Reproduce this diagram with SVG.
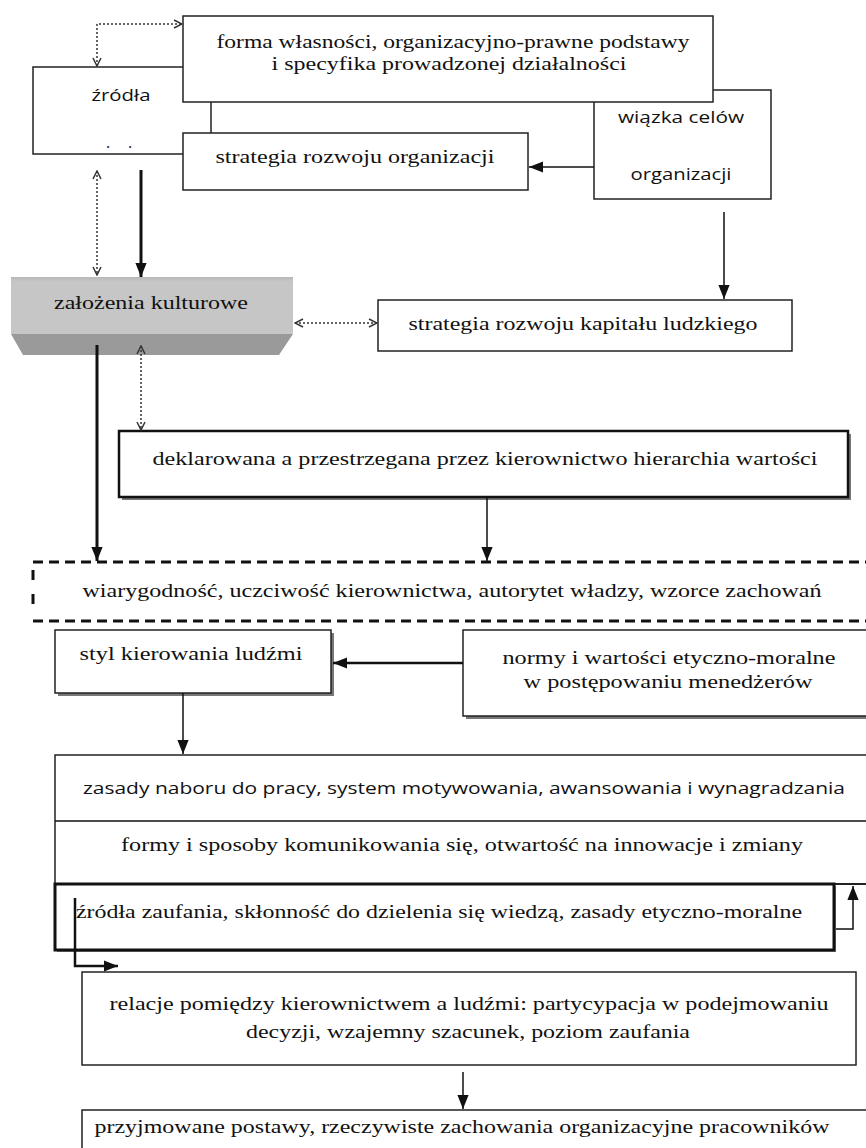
<svg xmlns="http://www.w3.org/2000/svg" width="866" height="1148" viewBox="0 0 866 1148">
<style>
.bx{fill:#fff;stroke:#222;stroke-width:1.5}
.bx2{fill:#fff;stroke:#111;stroke-width:2.5}
.sh{fill:#777}
.serif{font-family:'Liberation Serif','Tinos','DejaVu Serif',serif;font-size:19px;fill:#111}
.sans{font-family:'Open Sans','Liberation Sans',sans-serif;font-size:16px;fill:#111}
.ln{stroke:#111;stroke-width:1.5;fill:none}
.thick{stroke:#111;stroke-width:3;fill:none}
.dot{stroke:#333;stroke-width:1.5;stroke-dasharray:2 2;fill:none}
</style>
<defs>
<marker id="fa2" viewBox="0 0 10 10" refX="10" refY="5" markerWidth="14" markerHeight="14" markerUnits="userSpaceOnUse" orient="auto"><path d="M0,1 L10,5 L0,9 z" fill="#111"/></marker>
<marker id="oa" viewBox="0 0 10 10" refX="9" refY="5" markerWidth="10" markerHeight="10" markerUnits="userSpaceOnUse" orient="auto"><path d="M1,1 L9,5 L1,9" fill="none" stroke="#333" stroke-width="1.5"/></marker>
<marker id="oas" viewBox="0 0 10 10" refX="9" refY="5" markerWidth="10" markerHeight="10" markerUnits="userSpaceOnUse" orient="auto-start-reverse"><path d="M1,1 L9,5 L1,9" fill="none" stroke="#333" stroke-width="1.5"/></marker>
<linearGradient id="gt" x1="0" y1="0" x2="0" y2="1"><stop offset="0" stop-color="#b8b8b8"/><stop offset="0.08" stop-color="#c6c6c6"/><stop offset="1" stop-color="#c6c6c6"/></linearGradient>
</defs>

<g id="n-zrodla">
<rect class="bx" x="33" y="67" width="178" height="87"/>
<text class="sans" x="121" y="101" text-anchor="middle" textLength="59" lengthAdjust="spacingAndGlyphs">źródła</text>
<text class="sans" x="108" y="148" text-anchor="middle">.</text>
<text class="sans" x="130" y="148" text-anchor="middle">.</text>
</g>

<g id="n-wiazka">
<rect class="bx" x="594" y="90" width="177" height="109"/>
<text class="sans" x="681" y="123" text-anchor="middle" textLength="126" lengthAdjust="spacingAndGlyphs">wiązka celów</text>
<text class="sans" x="681" y="180" text-anchor="middle" textLength="101" lengthAdjust="spacingAndGlyphs">organizacji</text>
</g>

<g id="n-forma">
<rect class="bx" x="183" y="16" width="530" height="86"/>
<text class="serif" x="453" y="48" text-anchor="middle" textLength="473" lengthAdjust="spacingAndGlyphs">forma własności, organizacyjno-prawne podstawy</text>
<text class="serif" x="449" y="70" text-anchor="middle" textLength="355" lengthAdjust="spacingAndGlyphs">i specyfika prowadzonej działalności</text>
</g>

<g id="n-strategia-org">
<rect class="bx" x="183" y="133" width="345" height="57"/>
<text class="serif" x="355" y="163" text-anchor="middle" textLength="279" lengthAdjust="spacingAndGlyphs">strategia rozwoju organizacji</text>
</g>

<g id="n-zalozenia">
<rect x="11" y="277" width="282" height="57" fill="url(#gt)"/>
<polygon points="11,334 293,334 279,355 23,355" fill="#9a9a9a"/>
<text class="serif" x="151" y="309" text-anchor="middle" textLength="194" lengthAdjust="spacingAndGlyphs">założenia kulturowe</text>
</g>

<g id="n-kapital">
<rect class="bx" x="378" y="300" width="414" height="51"/>
<text class="serif" x="583" y="330" text-anchor="middle" textLength="349" lengthAdjust="spacingAndGlyphs">strategia rozwoju kapitału ludzkiego</text>
</g>

<g id="n-deklarowana">
<rect class="sh" x="122" y="434" width="729" height="66"/>
<rect class="bx2" x="119" y="431" width="729" height="66"/>
<text class="serif" x="485" y="465" text-anchor="middle" textLength="665" lengthAdjust="spacingAndGlyphs">deklarowana a przestrzegana przez kierownictwo hierarchia wartości</text>
</g>

<g id="n-wiarygodnosc">
<path d="M33,562 H866 M33,621 H866" stroke="#111" stroke-width="3" stroke-dasharray="10 6" fill="none"/>
<path d="M33,570 V614" stroke="#111" stroke-width="3" stroke-dasharray="10 14" fill="none"/>
<text class="serif" x="452" y="597" text-anchor="middle" textLength="739" lengthAdjust="spacingAndGlyphs">wiarygodność, uczciwość kierownictwa, autorytet władzy, wzorce zachowań</text>
</g>

<g id="n-styl">
<rect class="sh" x="58" y="633" width="276" height="63"/>
<rect class="bx" x="55" y="630" width="276" height="63"/>
<text class="serif" x="191" y="660" text-anchor="middle" textLength="223" lengthAdjust="spacingAndGlyphs">styl kierowania ludźmi</text>
</g>

<g id="n-normy">
<rect class="sh" x="466" y="633" width="410" height="86"/>
<rect class="bx" x="463" y="630" width="410" height="86"/>
<text class="serif" x="669" y="664" text-anchor="middle" textLength="333" lengthAdjust="spacingAndGlyphs">normy i wartości etyczno-moralne</text>
<text class="serif" x="668" y="688" text-anchor="middle" textLength="289" lengthAdjust="spacingAndGlyphs">w postępowaniu menedżerów</text>
</g>

<g id="n-zasady">
<rect class="bx" x="55" y="755" width="830" height="129"/>
<line class="ln" x1="55" y1="821" x2="866" y2="821"/>
<text class="sans" x="464" y="794" text-anchor="middle" textLength="762" lengthAdjust="spacingAndGlyphs">zasady naboru do pracy, system motywowania, awansowania i wynagradzania</text>
<text class="serif" x="462" y="851" text-anchor="middle" textLength="682" lengthAdjust="spacingAndGlyphs">formy i sposoby komunikowania się, otwartość na innowacje i zmiany</text>
</g>

<g id="n-zaufanie">
<rect x="57" y="886" width="779" height="66" fill="#888"/>
<rect x="55" y="884" width="779" height="66" fill="#fff" stroke="#111" stroke-width="3"/>
<text class="serif" x="439" y="918" text-anchor="middle" textLength="726" lengthAdjust="spacingAndGlyphs">źródła zaufania, skłonność do dzielenia się wiedzą, zasady etyczno-moralne</text>
</g>

<g id="n-relacje">
<rect class="bx" x="82" y="972" width="774" height="93"/>
<text class="serif" x="469" y="1010" text-anchor="middle" textLength="719" lengthAdjust="spacingAndGlyphs">relacje pomiędzy kierownictwem a ludźmi: partycypacja w podejmowaniu</text>
<text class="serif" x="468" y="1038" text-anchor="middle" textLength="444" lengthAdjust="spacingAndGlyphs">decyzji, wzajemny szacunek, poziom zaufania</text>
</g>

<g id="n-postawy">
<rect class="bx" x="82" y="1110" width="800" height="60"/>
<text class="serif" x="462" y="1133" text-anchor="middle" textLength="735" lengthAdjust="spacingAndGlyphs">przyjmowane postawy, rzeczywiste zachowania organizacyjne pracowników</text>
</g>

<g id="connectors">
<path class="dot" d="M97,66 V24 H182" marker-start="url(#oas)" marker-end="url(#oa)"/>
<line class="ln" x1="594" y1="167" x2="529" y2="167" marker-end="url(#fa2)"/>
<line class="ln" x1="724" y1="212" x2="724" y2="299" marker-end="url(#fa2)"/>
<line class="dot" x1="97" y1="171" x2="97" y2="275" marker-start="url(#oas)" marker-end="url(#oa)"/>
<line class="thick" x1="141" y1="170" x2="141" y2="277" marker-end="url(#fa2)"/>
<line class="dot" x1="295" y1="323" x2="377" y2="323" marker-start="url(#oas)" marker-end="url(#oa)"/>
<line class="dot" x1="141" y1="346" x2="141" y2="430" marker-start="url(#oas)" marker-end="url(#oa)"/>
<line class="thick" x1="97" y1="345" x2="97" y2="561" marker-end="url(#fa2)"/>
<line class="ln" x1="487" y1="497" x2="487" y2="561" marker-end="url(#fa2)"/>
<line x1="463" y1="663" x2="333" y2="663" stroke="#111" stroke-width="2.5" marker-end="url(#fa2)"/>
<line class="ln" x1="183" y1="693" x2="183" y2="754" marker-end="url(#fa2)"/>
<line class="ln" x1="834" y1="884" x2="866" y2="884"/>
<path class="ln" d="M836,929 H853 V886" marker-end="url(#fa2)"/>
<path d="M75,898 V966 H118" stroke="#111" stroke-width="2.5" fill="none" marker-end="url(#fa2)"/>
<line class="ln" x1="463" y1="1072" x2="463" y2="1109" marker-end="url(#fa2)"/>
</g>
</svg>
